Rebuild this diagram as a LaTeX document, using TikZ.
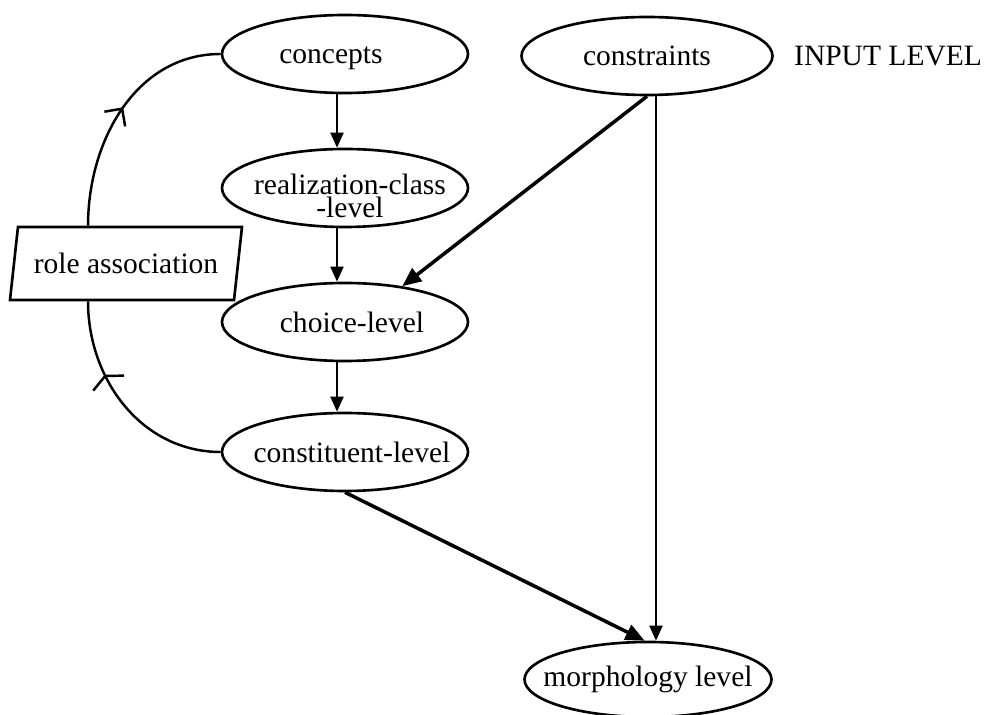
\documentclass[tikz,border=0pt]{standalone}
\usepackage{fontspec}
\setmainfont{Liberation Serif}
\usepackage{tikz}
\usetikzlibrary{shapes,arrows.meta,positioning,decorations.markings}

\begin{document}
\begin{tikzpicture}[
  font=\fontsize{16.8}{20}\selectfont,
  lvl/.style={draw, ellipse, line width=1.5pt, minimum width=4.92cm, minimum height=1.56cm, inner sep=0pt},
  rolebox/.style={draw, trapezium, trapezium left angle=74, trapezium right angle=106,
    trapezium stretches body, line width=1.5pt, minimum width=4.64cm, minimum height=1.46cm, inner sep=2pt},
  flow/.style={-{Triangle[length=3mm,width=2.6mm]}, line width=1.1pt},
  bigflow/.style={-{Triangle[length=3.8mm,width=3.2mm]}, line width=2pt},
  loopline/.style={line width=1.4pt},
  barb/.tip={Straight Barb[angle=90:3.6mm]},
  widebarb/.tip={Straight Barb[angle=130:3.8mm]},
  tick/.style 2 args={postaction=decorate, decoration={markings,
    mark=at position #1 with {\arrow{#2}}}}
]
\useasboundingbox (0,0) rectangle (19.82,-14.3);

% input level
\node[lvl, label={[xshift=-2.8mm,yshift=-0.8mm]center:concepts}] (concepts) at (6.9,-1.08) {};
\node[lvl, minimum width=5.02cm, label=center:constraints] (constraints) at (12.94,-1.12) {};
\node[right=0.4cm of constraints, inner sep=0pt] (inputlvl) {INPUT LEVEL};

% generation levels
\node[lvl, label={[align=center,xshift=1mm,yshift=-1.6mm]center:{realization-class\\[-7pt]-level}}] (realization) at (6.9,-3.76) {};
\node[lvl, label={[xshift=1.4mm]center:choice-level}] (choice) at (6.9,-6.44) {};
\node[lvl, label={[xshift=1.4mm]center:constituent-level}] (constituent) at (6.9,-9.04) {};
\node[lvl, minimum width=4.94cm, minimum height=1.5cm, label=center:morphology level] (morph) at (12.96,-13.59) {};

\node[rolebox] (role) at (2.52,-5.27) {role association};

% connectors
\draw[flow] ([xshift=-1.6mm]concepts.south) -- ([xshift=-1.6mm]realization.north);
\draw[flow] ([xshift=-1.6mm]realization.south) -- ([xshift=-1.6mm]choice.north);
\draw[flow] ([xshift=-1.6mm]choice.south) -- ([xshift=-1.6mm]constituent.north);
\draw[bigflow] (constraints.south) -- (choice.32);
\draw[flow] ([xshift=1.8mm]constraints.south) -- ([xshift=1.8mm]constraints.south |- morph.north);
\draw[bigflow] (constituent.south) -- (morph.95);

% role association loop
\draw[loopline, tick={0.52}{barb}] ([xshift=-7.6mm]role.north) to[out=90, in=180] (concepts.west);
\draw[loopline, tick={0.66}{widebarb}] (constituent.west) to[out=180, in=-90] ([xshift=-7.6mm]role.south);
\end{tikzpicture}
\end{document}
